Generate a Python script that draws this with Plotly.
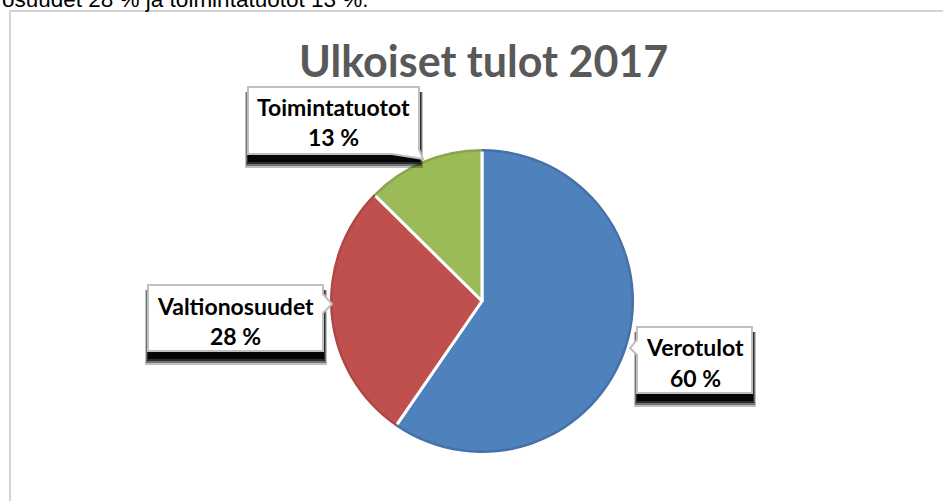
import plotly.graph_objects as go

# ---- data ----
labels = ["Verotulot", "Valtionosuudet", "Toimintatuotot"]
values = [59.6, 27.8, 12.6]
colors = ["#4F81BD", "#C0504D", "#9BBB59"]
rim_colors = ["#4471AA", "#AD4744", "#89A64F"]
title_text = "Ulkoiset tulot 2017"
top_text = "osuudet 28 % ja toimintatuotot 13 %."

W, H = 943, 501
total = sum(values)
pct_text = [f"{round(v / total * 100)} %" for v in values]


def X(px):
    return px / W


def Y(py):
    return 1 - py / H


# pie geometry (pixels): centre and radius
cx, cy, r = 482, 301, 152
dom = dict(x=[X(cx - r), X(cx + r)], y=[Y(cy + r), Y(cy - r)])

fig = go.Figure()
fig.add_trace(go.Pie(
    labels=labels, values=values, sort=False, direction="clockwise", rotation=0,
    marker=dict(colors=colors, line=dict(color="white", width=3)),
    textinfo="none", hoverinfo="skip", showlegend=False, domain=dom,
))
# subtle darker rim (bevel effect), drawn on top of the outer edge
fig.add_trace(go.Pie(
    labels=labels, values=values, sort=False, direction="clockwise", rotation=0, hole=0.984,
    marker=dict(colors=rim_colors, line=dict(color="white", width=0)),
    textinfo="none", hoverinfo="skip", showlegend=False, domain=dom,
))

# callout boxes (pixel geometry): pointer polygon, text centre
callouts = {
    "Toimintatuotot": dict(rect=(248, 87, 419, 154),
                           poly=[(248, 87), (419, 87), (419, 149), (423, 159), (392, 154), (248, 154)],
                           tx=333, ty1=107, ty2=137),
    "Valtionosuudet": dict(rect=(148, 285, 323, 351),
                           poly=[(148, 285), (323, 285), (323, 294), (332, 304), (323, 313), (323, 351), (148, 351)],
                           tx=235, ty1=306, ty2=336),
    "Verotulot": dict(rect=(637, 327, 752, 393),
                      poly=[(637, 327), (752, 327), (752, 393), (637, 393), (637, 355), (630, 348), (637, 340)],
                      tx=695, ty1=347, ty2=378),
}

shapes = []
# chart area border
shapes.append(dict(type="rect", xref="paper", yref="paper",
                   x0=X(10), y0=Y(530), x1=X(980), y1=Y(11),
                   line=dict(color="#D4D4D4", width=2), fillcolor="rgba(0,0,0,0)", layer="below"))

for name, c in callouts.items():
    x0, y0, x1, y1 = c["rect"]
    for (a, b, cc, d, op) in [(-3, 5, 4, 14, 0.25), (-2, 5, 3, 12, 0.4), (-1, 5, 2, 10, 0.6), (0, 5, 1, 8, 0.85)]:
        shapes.append(dict(type="rect", xref="paper", yref="paper",
                           x0=X(x0 + a), y0=Y(y1 + d), x1=X(x1 + cc), y1=Y(y0 + b),
                           line=dict(width=0), fillcolor=f"rgba(0,0,0,{op})", layer="above"))
    path = "M " + " L ".join(f"{X(px):.5f},{Y(py):.5f}" for px, py in c["poly"]) + " Z"
    shapes.append(dict(type="path", xref="paper", yref="paper", path=path,
                       line=dict(color="#BFBFBF", width=2), fillcolor="white", layer="above"))

annotations = []
for name, p in zip(labels, pct_text):
    c = callouts[name]
    for txt, ty in [(name, c["ty1"]), (p, c["ty2"])]:
        annotations.append(dict(text=f"<b>{txt}</b>", x=X(c["tx"]), y=Y(ty), xref="paper", yref="paper",
                                xanchor="center", yanchor="middle", showarrow=False,
                                font=dict(family="Lato", size=23, color="black")))

annotations.append(dict(text=f"<b>{title_text}</b>", x=X(483), y=Y(60), xref="paper", yref="paper",
                        xanchor="center", yanchor="middle", showarrow=False,
                        font=dict(family="Lato", size=43, color="#595959")))
annotations.append(dict(text=top_text, x=X(0), y=Y(-0.5), xref="paper", yref="paper",
                        xanchor="left", yanchor="middle", showarrow=False,
                        font=dict(family="Liberation Sans", size=22.5, color="black")))

fig.update_layout(width=W, height=H, autosize=False,
                  margin=dict(l=0, r=0, t=0, b=0),
                  paper_bgcolor="white", plot_bgcolor="white",
                  shapes=shapes, annotations=annotations)

fig.write_html("out.html", config={"displayModeBar": False},
               post_script="document.body.style.margin='0';document.body.style.overflow='hidden';")
